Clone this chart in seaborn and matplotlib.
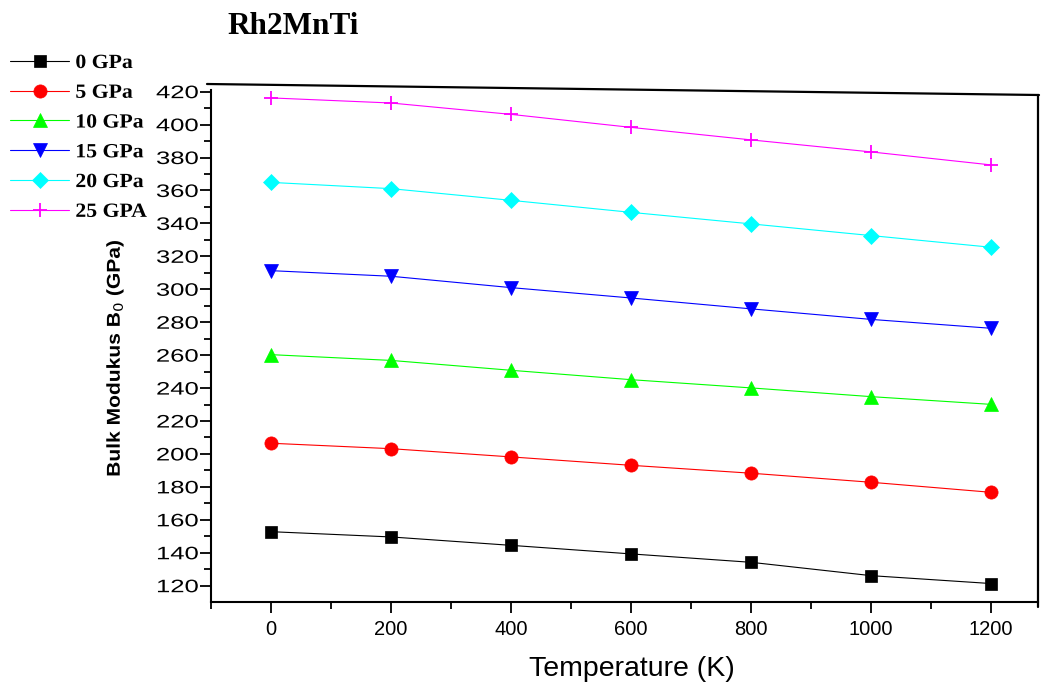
import numpy as np
import pandas as pd
import matplotlib
matplotlib.use("Agg")
import matplotlib.pyplot as plt
from matplotlib.lines import Line2D
from matplotlib.ticker import MultipleLocator
from matplotlib.transforms import Affine2D
from matplotlib.patheffects import AbstractPathEffect
import seaborn as sns

# Temperature grid (K)
temperature = [0, 200, 400, 600, 800, 1000, 1200]

# Bulk modulus B0 (GPa) at each pressure
b0_p0 = [152.8, 149.6, 144.5, 139.3, 134.2, 126.1, 121.3]
b0_p5 = [206.5, 203.2, 198.2, 193.1, 188.3, 182.8, 176.7]
b0_p10 = [260.3, 256.8, 250.8, 245.1, 240.1, 234.8, 230.1]
b0_p15 = [311.3, 307.9, 301.0, 294.7, 288.1, 281.7, 276.3]
b0_p20 = [364.9, 361.1, 354.0, 346.7, 339.7, 332.6, 325.5]
b0_p25 = [416.2, 413.1, 406.2, 398.3, 390.7, 383.4, 375.5]

series_labels = ["0 GPa", "5 GPa", "10 GPa", "15 GPa", "20 GPa", "25 GPA"]
series_values = [b0_p0, b0_p5, b0_p10, b0_p15, b0_p20, b0_p25]
series_colors = ["#000000", "#FF0000", "#00FF00", "#0000FF", "#00FFFF", "#FF00FF"]
series_markers = ["s", "o", "^", "v", "D", "+"]
marker_sizes = [9, 9.5, 10, 10, 8, 10]


class WideText(AbstractPathEffect):
    """Draw text glyphs widened along the writing direction."""

    def __init__(self, sx, anchor="center"):
        super().__init__()
        self.sx = sx
        self.anchor = anchor

    def draw_path(self, renderer, gc, tpath, affine, rgbFace=None):
        ext = tpath.get_extents()
        if self.anchor == "left":
            cx = ext.x0
        elif self.anchor == "right":
            cx = ext.x1
        else:
            cx = 0.5 * (ext.x0 + ext.x1)
        t = Affine2D().translate(-cx, 0).scale(self.sx, 1).translate(cx, 0) + affine
        renderer.draw_path(gc, tpath, t, rgbFace)


rows = []
for lab, vals in zip(series_labels, series_values):
    for t, v in zip(temperature, vals):
        rows.append({"Temperature": t, "B0": v, "Pressure": lab})
df = pd.DataFrame(rows)

sns.set_theme(style="white")
plt.rcParams["font.family"] = ["Liberation Sans", "DejaVu Sans"]
plt.rcParams["text.color"] = "black"
plt.rcParams["axes.labelcolor"] = "black"
plt.rcParams["xtick.color"] = "black"
plt.rcParams["ytick.color"] = "black"

W, H = 1044, 686
fig = plt.figure(figsize=(W / 100, H / 100), dpi=100)
ax = fig.add_axes([211 / W, 1 - 602 / H, (1038 - 211) / W, (602 - 90) / H])

handles = []
for lab, col, mk, ms in zip(series_labels, series_colors, series_markers, marker_sizes):
    sub = df[df["Pressure"] == lab]
    mew = 1.3 if mk == "+" else 0.5
    sns.lineplot(data=sub, x="Temperature", y="B0", ax=ax, color=col,
                 marker=mk, markersize=ms, linewidth=0.8,
                 markeredgecolor=col, markeredgewidth=mew, legend=False)
    handles.append(Line2D([], [], color=col, marker=mk, markersize=ms,
                          markeredgecolor=col, markeredgewidth=mew,
                          linewidth=0.8))

ax.set_xlim(-100, 1278)
ax.set_ylim(110.1, 421)
ax.xaxis.set_major_locator(MultipleLocator(200))
ax.xaxis.set_minor_locator(MultipleLocator(100))
ax.yaxis.set_major_locator(MultipleLocator(20))
ax.yaxis.set_minor_locator(MultipleLocator(10))
ax.tick_params(axis="both", which="major", direction="out", length=8, width=1.3,
               color="black", labelcolor="black")
ax.tick_params(axis="both", which="minor", direction="out", length=4.8, width=1.3,
               color="black")
ax.tick_params(axis="x", which="major", labelsize=14.5, pad=5)
ax.tick_params(axis="y", which="major", labelsize=13, pad=1)
ax.tick_params(bottom=True, left=True, which="both")

for side in ["top", "right"]:
    ax.spines[side].set_visible(False)
for side in ["left", "bottom"]:
    ax.spines[side].set_color("black")
    ax.spines[side].set_linewidth(1.5)

ax.set_xlabel("Temperature (K)", fontsize=20.5)
ax.xaxis.set_label_coords(0.509, -0.105)
ax.set_ylabel("Bulk Modukus B$_0$ (GPa)", fontsize=13.4, fontweight="bold",
              path_effects=[WideText(1.13, "center")])
ax.yaxis.set_label_coords(-0.103, 0.477)

# Frame lines above and right of the plotting area
fig.add_artist(Line2D([207 / W, 1039 / W], [1 - 84 / H, 1 - 95 / H],
                      transform=fig.transFigure, color="black", linewidth=1.6))
fig.add_artist(Line2D([1038 / W, 1038 / W], [1 - 95 / H, 1 - 607 / H],
                      transform=fig.transFigure, color="black", linewidth=1.6))

fig.text(227 / W, 1 - 27 / H, "Rh2MnTi", fontsize=22.5, fontweight="bold",
         family=["Liberation Serif", "DejaVu Serif"], va="center", ha="left")

leg = fig.legend(handles, series_labels, loc="upper left",
                 bbox_to_anchor=(10 / W, 1 - 53 / H), frameon=False,
                 borderpad=0, borderaxespad=0, handlelength=2.95,
                 handletextpad=0.3, labelspacing=0.485,
                 prop={"family": ["Liberation Serif", "DejaVu Serif"],
                       "weight": "bold", "size": 14.5})
for txt in leg.get_texts():
    txt.set_path_effects([WideText(1.08, "left")])

fig.canvas.draw()
for tick in ax.yaxis.get_major_ticks():
    tick.label1.set_path_effects([WideText(1.42, "right")])

fig.savefig("out.png", dpi=100)
